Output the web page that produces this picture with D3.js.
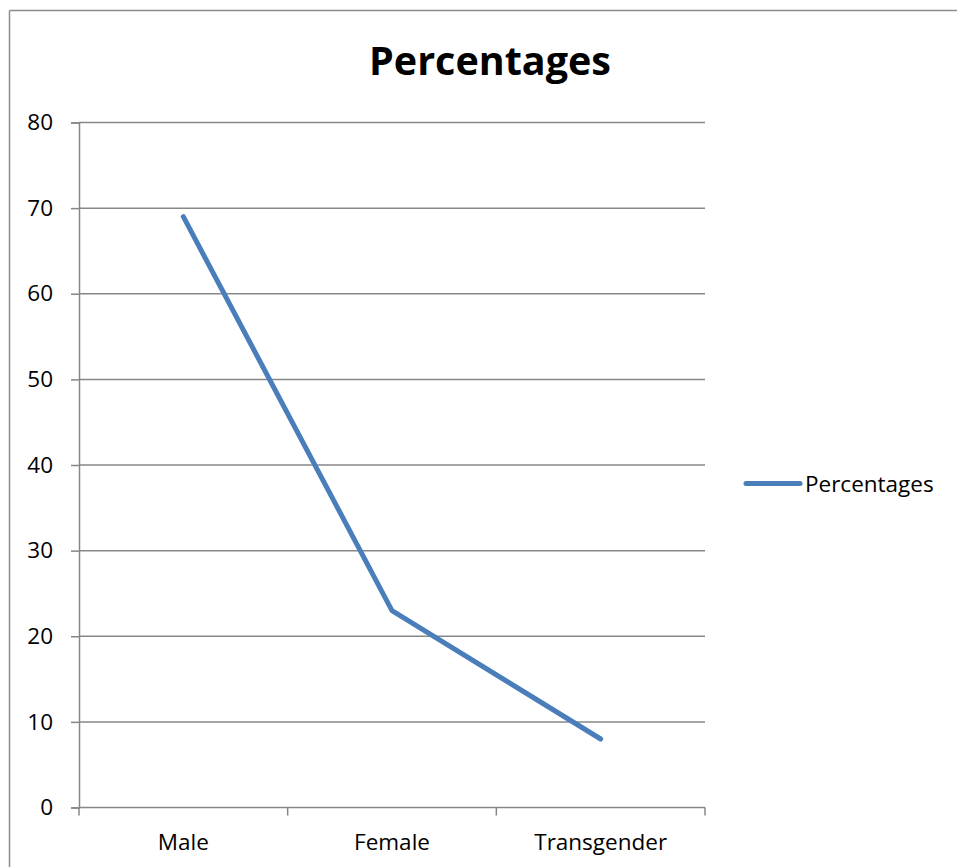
<!DOCTYPE html>
<html>
<head>
<meta charset="utf-8">
<script src="https://cdn.jsdelivr.net/npm/d3@7/dist/d3.min.js"></script>
<style>
  html, body { margin: 0; padding: 0; background: #fff; overflow: hidden; }
  svg { display: block; }
  text { font-family: "Open Sans", "Noto Sans", sans-serif; fill: #000; }
</style>
</head>
<body>
<svg id="chart" width="957" height="867"></svg>
<script>
// Share of respondents by gender
const categories = ["Male", "Female", "Transgender"];
const percentages = [69, 23, 8];
const yTicks = [0, 10, 20, 30, 40, 50, 60, 70, 80];
const seriesName = "Percentages";
const chartTitle = "Percentages";

const svg = d3.select("#chart");
const plot = { left: 79, right: 705, top: 122.5, bottom: 807.5 };
const gridColor = "#878787";
const frameColor = "#8c8c8c";
const lineColor = "#4a7ebb";
const labelSize = 22.5;

// Chart frame (top and left edges fall inside the canvas)
svg.append("line")
  .attr("x1", 9.5).attr("x2", 957).attr("y1", 10.5).attr("y2", 10.5)
  .attr("stroke", frameColor).attr("stroke-width", 1.5);
svg.append("line")
  .attr("x1", 9.5).attr("x2", 9.5).attr("y1", 10.5).attr("y2", 867)
  .attr("stroke", frameColor).attr("stroke-width", 1.5);

const x = d3.scaleBand().domain(categories).range([plot.left, plot.right]).padding(0);
const y = d3.scaleLinear().domain([0, 80]).range([plot.bottom, plot.top]);

// Horizontal gridlines
svg.append("g").selectAll("line")
  .data(yTicks.filter(t => t > 0))
  .join("line")
  .attr("x1", plot.left).attr("x2", plot.right)
  .attr("y1", d => y(d)).attr("y2", d => y(d))
  .attr("stroke", gridColor).attr("stroke-width", 1.5);

// Y axis
const yAxis = d3.axisLeft(y).tickValues(yTicks).tickSize(8).tickPadding(18);
const gy = svg.append("g").attr("transform", `translate(${plot.left},0)`).call(yAxis);
gy.select(".domain").attr("stroke", gridColor).attr("stroke-width", 1.5);
gy.selectAll(".tick line").attr("stroke", gridColor).attr("stroke-width", 1.5);
gy.selectAll(".tick text")
  .attr("font-size", labelSize)
  .attr("font-family", "'Open Sans', sans-serif")
  .attr("fill", "#000");

// X axis with ticks at category boundaries
const gx = svg.append("g").attr("transform", `translate(0,${plot.bottom})`);
gx.append("line")
  .attr("x1", plot.left).attr("x2", plot.right)
  .attr("stroke", gridColor).attr("stroke-width", 1.5);
const bounds = categories.map(c => x(c)).concat([x(categories[categories.length - 1]) + x.bandwidth()]);
gx.selectAll("line.tk").data(bounds).join("line").attr("class", "tk")
  .attr("x1", d => d).attr("x2", d => d)
  .attr("y1", 0).attr("y2", 8)
  .attr("stroke", gridColor).attr("stroke-width", 1.5);
gx.selectAll("text").data(categories).join("text")
  .attr("x", d => x(d) + x.bandwidth() / 2)
  .attr("y", 42)
  .attr("text-anchor", "middle")
  .attr("font-size", labelSize)
  .text(d => d);

// Data line
const line = d3.line()
  .x((d, i) => x(categories[i]) + x.bandwidth() / 2)
  .y(d => y(d));
svg.append("path")
  .datum(percentages)
  .attr("d", line)
  .attr("fill", "none")
  .attr("stroke", lineColor)
  .attr("stroke-width", 5)
  .attr("stroke-linecap", "round")
  .attr("stroke-linejoin", "round");

// Title
svg.append("text")
  .attr("x", 490).attr("y", 75)
  .attr("text-anchor", "middle")
  .attr("font-size", 39.5)
  .attr("font-weight", "bold")
  .text(chartTitle);

// Legend
const lg = svg.append("g").attr("transform", "translate(746,483.5)");
lg.append("line")
  .attr("x1", 0).attr("x2", 54)
  .attr("stroke", lineColor).attr("stroke-width", 5)
  .attr("stroke-linecap", "round");
lg.append("text")
  .attr("x", 59).attr("y", 8)
  .attr("font-size", labelSize)
  .text(seriesName);
</script>
</body>
</html>
